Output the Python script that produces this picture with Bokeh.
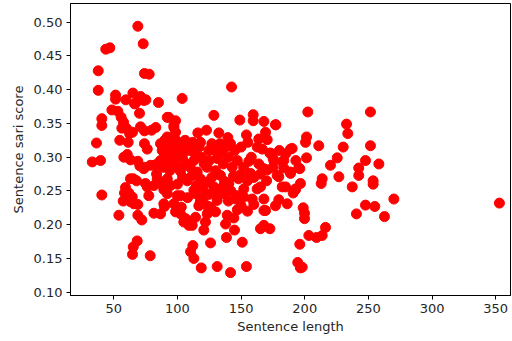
from bokeh.plotting import figure
from bokeh.models import FixedTicker, NumeralTickFormatter, Range1d
from bokeh.embed import file_html
from bokeh.resources import INLINE

sentence_length = [
    33.1, 39.6, 36.4, 40.6, 37.8, 37.8, 40.6, 40.6, 43.7, 46.9, 68.9, 73.1, 74.1, 77.8,
    51.4, 51.4, 48.5, 59.5, 65.0, 66.3, 70.4, 75.2, 85.1, 70.2, 53.2, 55.8, 57.6, 56.3,
    59.8, 62.4, 64.7, 71.0, 74.1, 79.6, 83.0, 92.0, 54.7, 61.3, 74.1, 76.3, 57.9, 60.6,
    63.1, 68.9, 70.5, 74.1, 78.8, 84.1, 65.3, 67.9, 59.2, 58.4, 61.8, 64.5, 57.4, 63.1,
    65.8, 68.9, 77.5, 76.3, 81.5, 86.7, 54.0, 68.9, 72.0, 81.5, 86.7, 68.4, 65.3, 64.7,
    78.6, 89.8, 89.3, 92.0, 83.6,
    103.7, 93.2, 98.5, 97.2, 98.5, 71.0, 73.6, 67.1, 88.0, 74.9, 86.7, 92.0, 81.4, 86.7,
    73.6, 84.1, 63.1,
    88.0, 90.0, 93.0, 95.0, 91.0, 96.0, 89.0, 97.0, 99.0, 94.0, 90.0,
    142.5, 128.6, 149.0, 159.5, 159.5, 167.9, 177.3, 116.0, 122.8, 132.5, 118.1, 133.3,
    139.6, 141.7, 154.2, 155.3, 163.9, 169.2, 170.5, 162.7, 166.6, 188.8, 172.6, 175.2,
    183.5, 156.1, 163.9, 167.9, 178.3, 188.8, 195.3, 192.7, 184.9,
    97.2, 124.6, 135.2, 105.0, 143.0, 112.9, 131.2, 123.3, 94.6, 102.4, 115.5, 133.8,
    149.5, 157.4, 107.7, 123.3, 140.4, 152.1, 94.6, 165.2, 114.2, 131.2, 146.9, 99.8,
    92.0, 102.4, 112.9, 120.7, 128.6, 136.4, 145.6, 152.1, 158.7, 162.6, 105.0, 111.6,
    114.2, 116.8, 123.3, 129.9, 131.2, 139.1, 97.2, 89.3,
    112.1, 110.3, 112.9, 118.7, 131.2, 141.7, 154.2, 126.0, 150.9, 138.5, 144.8, 144.3,
    137.8, 120.7, 122.0, 108.9, 106.3, 102.4, 98.5, 165.2, 167.9, 123.4, 109.0,
    100.0, 103.0, 106.0, 108.0, 110.0, 112.0, 104.0, 107.0, 110.0, 114.0, 117.0, 119.0,
    121.0, 125.0, 127.0, 129.0, 130.0, 136.0, 138.0, 140.0, 145.0, 147.0, 150.0, 152.0,
    148.0, 144.0, 137.0, 127.0, 118.0, 111.0, 104.0, 100.0, 98.0, 115.0, 120.0, 135.0,
    142.0, 155.0, 160.0, 158.0, 100.0, 125.0, 108.0, 118.0, 140.0, 150.0, 155.0, 160.0,
    147.0, 126.0, 103.0,
    202.4, 251.6, 177.0, 232.8, 233.8, 201.4, 200.6, 211.0, 190.1, 230.2, 251.6, 173.1,
    201.4, 225.5, 247.7, 258.2, 220.2, 175.7, 182.3, 183.5, 196.1, 188.8, 170.5, 242.4,
    242.4, 226.8, 179.6, 213.7, 212.9, 196.6, 253.7, 253.7, 237.3, 182.3, 192.7, 190.9,
    167.9, 179.6, 186.2, 177.0, 169.2, 198.8, 199.8, 199.8, 247.7, 255.0, 240.6, 167.9,
    172.6, 216.3, 203.2, 209.2, 213.7, 196.1, 194.5, 198.0, 196.6, 352.9, 270.0, 262.6,
    175.0, 185.0, 180.0, 193.0, 170.0, 165.0,
]

sari_score = [
    0.293, 0.295, 0.321, 0.244, 0.399, 0.428, 0.357, 0.347, 0.460, 0.462, 0.494, 0.468, 0.424, 0.423,
    0.392, 0.386, 0.370, 0.385, 0.395, 0.379, 0.386, 0.385, 0.381, 0.365, 0.368, 0.359, 0.352, 0.343,
    0.343, 0.335, 0.337, 0.345, 0.339, 0.340, 0.344, 0.359, 0.325, 0.322, 0.320, 0.312, 0.300, 0.304,
    0.296, 0.294, 0.287, 0.285, 0.288, 0.290, 0.268, 0.265, 0.255, 0.247, 0.247, 0.241, 0.235, 0.234,
    0.231, 0.230, 0.243, 0.256, 0.258, 0.261, 0.214, 0.214, 0.207, 0.217, 0.216, 0.176, 0.167, 0.156,
    0.154, 0.227, 0.252, 0.268, 0.275,
    0.387, 0.359, 0.354, 0.347, 0.337, 0.390, 0.384, 0.380, 0.261, 0.261, 0.320, 0.330, 0.288, 0.295,
    0.283, 0.268, 0.268,
    0.310, 0.325, 0.318, 0.305, 0.298, 0.293, 0.285, 0.310, 0.325, 0.280, 0.305,
    0.404, 0.362, 0.355, 0.363, 0.354, 0.353, 0.348, 0.336, 0.340, 0.336, 0.322, 0.320,
    0.329, 0.320, 0.333, 0.322, 0.327, 0.337, 0.326, 0.315, 0.312, 0.312, 0.306, 0.298,
    0.295, 0.294, 0.290, 0.283, 0.273, 0.278, 0.284, 0.253, 0.256,
    0.344, 0.310, 0.306, 0.307, 0.285, 0.295, 0.298, 0.285, 0.288, 0.279, 0.278, 0.273,
    0.274, 0.276, 0.265, 0.263, 0.261, 0.253, 0.258, 0.256, 0.246, 0.246, 0.243, 0.243,
    0.246, 0.243, 0.251, 0.241, 0.256, 0.246, 0.238, 0.241, 0.238, 0.253, 0.204, 0.199,
    0.211, 0.228, 0.228, 0.219, 0.236, 0.214, 0.231, 0.231,
    0.169, 0.160, 0.150, 0.136, 0.138, 0.129, 0.138, 0.173, 0.174, 0.181, 0.192, 0.210,
    0.201, 0.192, 0.204, 0.204, 0.209, 0.216, 0.219, 0.194, 0.221, 0.216, 0.199,
    0.320, 0.312, 0.325, 0.318, 0.310, 0.322, 0.298, 0.290, 0.285, 0.305, 0.315, 0.300,
    0.290, 0.295, 0.320, 0.310, 0.280, 0.290, 0.315, 0.300, 0.310, 0.295, 0.315, 0.285,
    0.268, 0.272, 0.264, 0.270, 0.268, 0.272, 0.270, 0.285, 0.300, 0.258, 0.255, 0.255,
    0.250, 0.265, 0.270, 0.300, 0.260, 0.245, 0.240, 0.235, 0.235, 0.228, 0.220, 0.230,
    0.222, 0.226, 0.226,
    0.367, 0.367, 0.348, 0.349, 0.335, 0.330, 0.322, 0.317, 0.313, 0.315, 0.317, 0.306,
    0.299, 0.299, 0.295, 0.290, 0.288, 0.295, 0.293, 0.284, 0.283, 0.276, 0.281, 0.284,
    0.273, 0.271, 0.271, 0.268, 0.261, 0.261, 0.265, 0.260, 0.256, 0.256, 0.252, 0.247,
    0.238, 0.237, 0.231, 0.228, 0.221, 0.225, 0.217, 0.209, 0.229, 0.227, 0.216, 0.199,
    0.194, 0.196, 0.184, 0.181, 0.184, 0.171, 0.144, 0.137, 0.136, 0.232, 0.238, 0.212,
    0.285, 0.305, 0.310, 0.295, 0.265, 0.275,
]

x_ticks = [50, 100, 150, 200, 250, 300, 350]
y_ticks = [0.10, 0.15, 0.20, 0.25, 0.30, 0.35, 0.40, 0.45, 0.50]

p = figure(width=512, height=341, output_backend="svg", toolbar_location=None,
           x_range=Range1d(16.0, 361.6), y_range=Range1d(0.0951, 0.5277),
           min_border_left=70, min_border_right=2, min_border_top=3, min_border_bottom=46)

p.scatter(sentence_length, sari_score, size=10, fill_color="#ff0000", line_color="#ff0000")

p.xgrid.visible = False
p.ygrid.visible = False
p.outline_line_color = "black"
p.outline_line_width = 1
p.outline_line_alpha = 1
p.background_fill_color = "white"
p.border_fill_color = "white"

p.xaxis.ticker = FixedTicker(ticks=x_ticks)
p.yaxis.ticker = FixedTicker(ticks=y_ticks)
p.yaxis.formatter = NumeralTickFormatter(format="0.00")
p.xaxis.axis_label = "Sentence length"
p.yaxis.axis_label = "Sentence sari score"

for ax in (p.xaxis, p.yaxis):
    ax.major_tick_out = 4
    ax.major_tick_in = 0
    ax.minor_tick_out = 0
    ax.minor_tick_in = 0
    ax.major_tick_line_color = "black"
    ax.axis_line_color = "black"
    ax.major_label_text_font = "DejaVu Sans"
    ax.major_label_text_font_size = "13px"
    ax.major_label_text_color = "#262626"
    ax.axis_label_text_font = "DejaVu Sans"
    ax.axis_label_text_font_size = "13px"
    ax.axis_label_text_font_style = "normal"
    ax.axis_label_text_color = "#262626"

p.xaxis.major_label_standoff = 4
p.xaxis.axis_label_standoff = 3
p.yaxis.major_label_standoff = 4
p.yaxis.axis_label_standoff = 5

open("out.html", "w").write(file_html(p, INLINE))
